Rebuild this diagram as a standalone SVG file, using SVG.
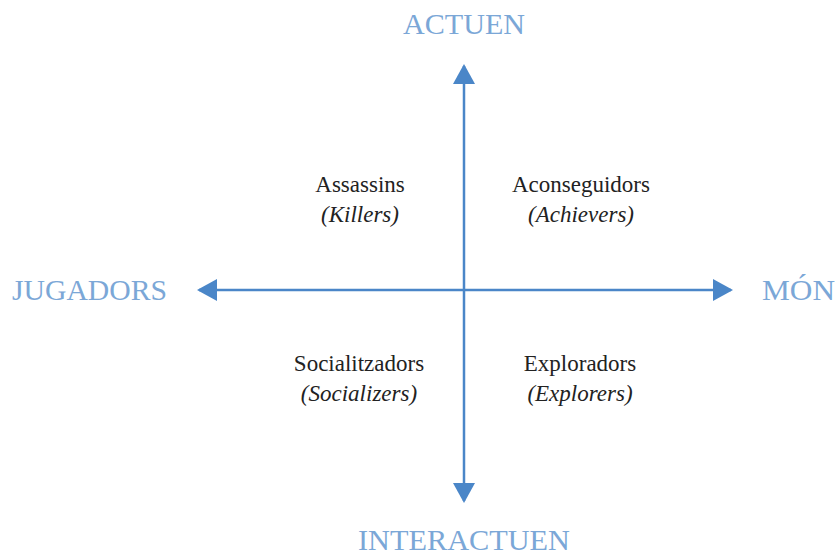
<svg xmlns="http://www.w3.org/2000/svg" width="835" height="555" viewBox="0 0 835 555">
  <style>
    .axis { stroke: #4a86c8; stroke-width: 2.5; fill: none; }
    .pole { font-family: "Liberation Serif", "DejaVu Serif", serif; font-size: 29px; fill: #7ba7d7; }
    .name { font-family: "Liberation Serif", "DejaVu Serif", serif; font-size: 23px; fill: #222; text-anchor: middle; }
    .alt { font-style: italic; }
  </style>
  <defs>
    <marker id="head" viewBox="0 0 20 22" refX="18" refY="11" markerWidth="20" markerHeight="22" markerUnits="userSpaceOnUse" orient="auto">
      <path d="M0,0 L20,11 L0,22 Z" fill="#4a86c8"/>
    </marker>
  </defs>
  <rect width="835" height="555" fill="#fff"/>

  <!-- axes -->
  <g id="connectors">
    <line class="axis" x1="464" y1="290" x2="464" y2="66" marker-end="url(#head)"/>
    <line class="axis" x1="464" y1="290" x2="464" y2="501" marker-end="url(#head)"/>
    <line class="axis" x1="464" y1="290" x2="199" y2="290" marker-end="url(#head)"/>
    <line class="axis" x1="464" y1="290" x2="731" y2="290" marker-end="url(#head)"/>
  </g>

  <!-- axis poles -->
  <g id="actuen"><text class="pole" x="403" y="34" textLength="122" lengthAdjust="spacingAndGlyphs">ACTUEN</text></g>
  <g id="interactuen"><text class="pole" x="358" y="550" textLength="212" lengthAdjust="spacingAndGlyphs">INTERACTUEN</text></g>
  <g id="jugadors"><text class="pole" x="12" y="300" textLength="155" lengthAdjust="spacingAndGlyphs">JUGADORS</text></g>
  <g id="mon"><text class="pole" x="762" y="300" textLength="73" lengthAdjust="spacingAndGlyphs">MÓN</text></g>

  <!-- quadrants -->
  <g id="killers">
    <text class="name" x="360" y="192">Assassins</text>
    <text class="name alt" x="360" y="222">(Killers)</text>
  </g>
  <g id="achievers">
    <text class="name" x="581" y="192">Aconseguidors</text>
    <text class="name alt" x="581" y="222">(Achievers)</text>
  </g>
  <g id="socializers">
    <text class="name" x="359" y="371">Socialitzadors</text>
    <text class="name alt" x="359" y="401">(Socializers)</text>
  </g>
  <g id="explorers">
    <text class="name" x="580" y="371">Exploradors</text>
    <text class="name alt" x="580" y="401">(Explorers)</text>
  </g>
</svg>
